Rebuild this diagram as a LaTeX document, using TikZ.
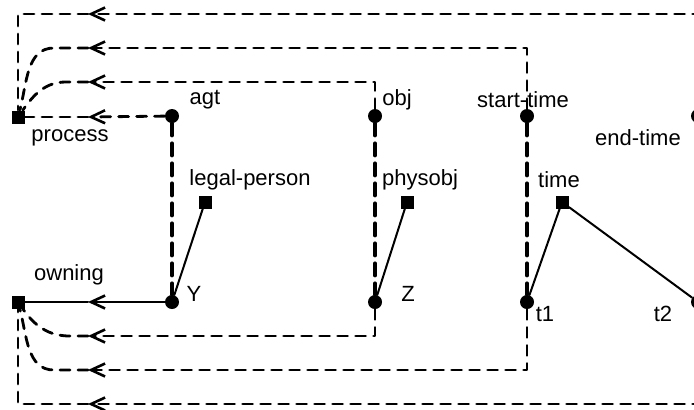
\documentclass[tikz,border=0pt]{standalone}
\usepackage{fontspec}
\setmainfont{Liberation Sans}
\usetikzlibrary{arrows.meta}
\begin{document}
\begin{tikzpicture}[x=.5pt,y=-.5pt,line cap=round,line join=round,
	font=\fontsize{11}{13}\selectfont,
	tip/.style={-{Straight Barb[length=7pt,width=6.5pt,line width=1.3pt]}},
	dot/.style={circle,fill,inner sep=0pt,minimum size=7pt},
	sq/.style={rectangle,fill,inner sep=0pt,minimum size=6.5pt},
	dep/.style={dash pattern=on 5pt off 4pt,line width=1.4pt},
	slot/.style={dash pattern=on 6pt off 4pt,line width=2pt},
	link/.style={line width=1pt}]
	\useasboundingbox (0,0) rectangle (694,409);
	% concept nodes
	\node[sq] (process) at (18,117) {};
	\node[dot] (agt) at (172,116) {};
	\node[dot] (obj) at (375,116) {};
	\node[dot] (start) at (527,116) {};
	\node[dot] (end) at (698,116) {};
	\node[sq] (legal) at (205,202) {};
	\node[sq] (physobj) at (407,202) {};
	\node[sq] (time) at (562,202) {};
	\node[sq] (owning) at (18,302) {};
	\node[dot] (Y) at (172,302) {};
	\node[dot] (Z) at (375,302) {};
	\node[dot] (t1) at (527,302) {};
	\node[dot] (t2) at (698,302) {};
	% labels
	\node (lprocess) at (70,138) {process};
	\node (lagt) at (205,100) {agt};
	\node (lobj) at (397,100) {obj};
	\node (lstart) at (523,100) {start-time};
	\node (lend) at (638,138) {end-time};
	\node (llegal) at (250,180) {legal-person};
	\node (lphysobj) at (420,180) {physobj};
	\node (ltime) at (559,180) {time};
	\node (lowning) at (69,275) {owning};
	\node (lY) at (194,294) {Y};
	\node (lZ) at (408,294) {Z};
	\node (lt1) at (545,314) {t1};
	\node (lt2) at (663,314) {t2};
	% arrow points
	\coordinate (p1) at (88,117);
	\coordinate (p2) at (88,82);
	\coordinate (p3) at (88,48);
	\coordinate (p4) at (88,14);
	\coordinate (o1) at (88,302);
	\coordinate (o2) at (88,336);
	\coordinate (o3) at (88,370);
	\coordinate (o4) at (88,404);
	% slots down to the second instance
	\draw[slot] (agt) -- (Y);
	\draw[slot] (obj) -- (Z);
	\draw[slot] (start) -- (t1);
	% type links
	\draw[link] (Y) -- (legal);
	\draw[link] (Z) -- (physobj);
	\draw[link] (t1) -- (time) -- (t2);
	% back to process
	\draw[dep,tip] (agt) -- (p1);
	\draw[dep] (p1) -- (process);
	\draw[dep,tip] (obj) |- (p2);
	\draw[dep] (p2) -- ++(-22,0) to[out=180,in=55] (process);
	\draw[dep,tip] (start) |- (p3);
	\draw[dep] (p3) -- ++(-34,0) to[out=180,in=75] (process);
	\draw[dep,tip] (end) |- (p4);
	\draw[dep] (p4) -| (process);
	% back to owning
	\draw[link,tip] (Y) -- (o1);
	\draw[link] (o1) -- (owning);
	\draw[dep,tip] (Z) |- (o2);
	\draw[dep] (o2) -- ++(-18,0) to[out=180,in=-55] (owning);
	\draw[dep,tip] (t1) |- (o3);
	\draw[dep] (o3) -- ++(-34,0) to[out=180,in=-75] (owning);
	\draw[dep,tip] (t2) |- (o4);
	\draw[dep] (o4) -| (owning);
\end{tikzpicture}
\end{document}
